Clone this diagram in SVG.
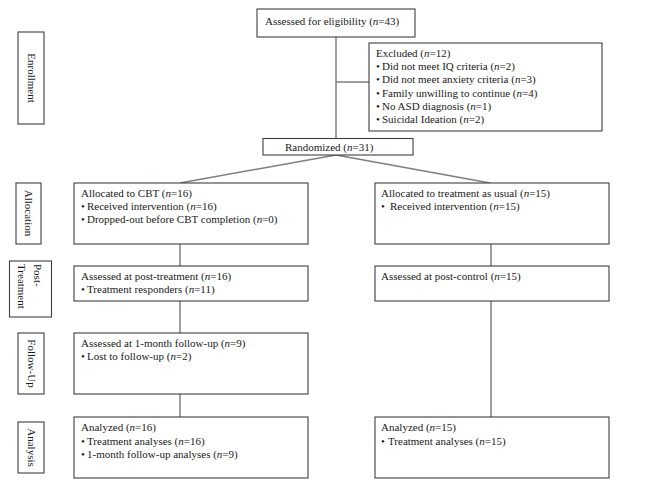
<svg xmlns="http://www.w3.org/2000/svg" width="664" height="489" viewBox="0 0 664 489">
<style>
  .box { fill: #ffffff; stroke: #3f3f3f; stroke-width: 1.1; }
  .conn { stroke: #7f7f7f; stroke-width: 1.5; fill: none; }
  text { font-family: "Liberation Serif", "Times New Roman", serif; font-size: 11px; fill: #1a1a1a; }
  .i { font-style: italic; }
</style>
<rect width="664" height="489" fill="#ffffff"/>
<g id="connectors">
  <line class="conn" x1="336" y1="37" x2="336" y2="138.5"/>
  <line class="conn" x1="336" y1="82" x2="369" y2="82"/>
  <line class="conn" x1="336" y1="155" x2="180" y2="183"/>
  <line class="conn" x1="336" y1="155" x2="490" y2="183"/>
  <line class="conn" x1="180" y1="244" x2="180" y2="266"/>
  <line class="conn" x1="180" y1="301" x2="180" y2="333"/>
  <line class="conn" x1="180" y1="394" x2="180" y2="417"/>
  <line class="conn" x1="491" y1="244" x2="491" y2="266"/>
  <line class="conn" x1="491" y1="301" x2="491" y2="417"/>
</g>
<g id="label-enrollment">
  <rect class="box" x="18" y="32" width="26" height="92"/>
  <text transform="translate(31,78) rotate(90)" x="0" y="3.5" text-anchor="middle">Enrollment</text>
</g>
<g id="label-allocation">
  <rect class="box" x="16" y="183" width="25" height="61"/>
  <text transform="translate(28.5,213) rotate(90)" x="0" y="3.5" text-anchor="middle">Allocation</text>
</g>
<g id="label-post-treatment">
  <rect class="box" x="9.5" y="261" width="42" height="56"/>
  <text transform="translate(33.5,264) rotate(90)" x="0" y="0">Post-</text>
  <text transform="translate(18,264) rotate(90)" x="0" y="0">Treatment</text>
</g>
<g id="label-follow-up">
  <rect class="box" x="18" y="333" width="26" height="61"/>
  <text transform="translate(31,363.5) rotate(90)" x="0" y="3.5" text-anchor="middle">Follow-Up</text>
</g>
<g id="label-analysis">
  <rect class="box" x="18" y="422" width="26" height="51"/>
  <text transform="translate(31,447.5) rotate(90)" x="0" y="3.5" text-anchor="middle">Analysis</text>
</g>
<g id="assessed">
  <rect class="box" x="257" y="9" width="158" height="28"/>
  <text x="265" y="24.5">Assessed for eligibility  (<tspan class="i">n</tspan>=43)</text>
</g>
<g id="excluded">
  <rect class="box" x="369" y="43" width="233" height="88"/>
  <text x="376" y="57">Excluded (<tspan class="i">n</tspan>=12)</text>
  <text x="376" y="70.2">•<tspan x="382">Did not meet IQ criteria (<tspan class="i">n</tspan>=2)</tspan></text>
  <text x="376" y="83.4">•<tspan x="382">Did not meet anxiety criteria (<tspan class="i">n</tspan>=3)</tspan></text>
  <text x="376" y="96.6">•<tspan x="382">Family unwilling to continue (<tspan class="i">n</tspan>=4)</tspan></text>
  <text x="376" y="109.8">•<tspan x="382">No ASD diagnosis (<tspan class="i">n</tspan>=1)</tspan></text>
  <text x="376" y="123">•<tspan x="382">Suicidal Ideation (<tspan class="i">n</tspan>=2)</tspan></text>
</g>
<g id="randomized">
  <rect class="box" x="263" y="138.5" width="150" height="16.5"/>
  <text x="285" y="151">Randomized (<tspan class="i">n</tspan>=31)</text>
</g>
<g id="alloc-cbt">
  <rect class="box" x="74" y="183" width="234" height="61"/>
  <text x="81" y="197">Allocated to CBT (<tspan class="i">n</tspan>=16)</text>
  <text x="81" y="210.2">•<tspan x="87">Received intervention (<tspan class="i">n</tspan>=16)</tspan></text>
  <text x="81" y="223.4">•<tspan x="87">Dropped-out before CBT completion (<tspan class="i">n</tspan>=0)</tspan></text>
</g>
<g id="alloc-tau">
  <rect class="box" x="375" y="183" width="234" height="61"/>
  <text x="381" y="197">Allocated to treatment as usual  (<tspan class="i">n</tspan>=15)</text>
  <text x="381" y="210.2">•<tspan x="390">Received intervention (<tspan class="i">n</tspan>=15)</tspan></text>
</g>
<g id="post-cbt">
  <rect class="box" x="74" y="266" width="234" height="35"/>
  <text x="81" y="280">Assessed at post-treatment (<tspan class="i">n</tspan>=16)</text>
  <text x="81" y="293.2">•<tspan x="87">Treatment responders (<tspan class="i">n</tspan>=11)</tspan></text>
</g>
<g id="post-tau">
  <rect class="box" x="375" y="266" width="234" height="35"/>
  <text x="381" y="280">Assessed at post-control  (<tspan class="i">n</tspan>=15)</text>
</g>
<g id="followup-cbt">
  <rect class="box" x="74" y="333" width="234" height="61"/>
  <text x="81" y="347">Assessed at 1-month follow-up (<tspan class="i">n</tspan>=9)</text>
  <text x="81" y="360.2">•<tspan x="87">Lost to follow-up (<tspan class="i">n</tspan>=2)</tspan></text>
</g>
<g id="analyzed-cbt">
  <rect class="box" x="74" y="417" width="234" height="61"/>
  <text x="81" y="431">Analyzed (<tspan class="i">n</tspan>=16)</text>
  <text x="81" y="444.5">•<tspan x="87">Treatment analyses  (<tspan class="i">n</tspan>=16)</tspan></text>
  <text x="81" y="458">•<tspan x="87">1-month follow-up analyses  (<tspan class="i">n</tspan>=9)</tspan></text>
</g>
<g id="analyzed-tau">
  <rect class="box" x="375" y="417" width="234" height="61"/>
  <text x="381" y="431">Analyzed (<tspan class="i">n</tspan>=15)</text>
  <text x="381" y="444.5">•<tspan x="388">Treatment analyses  (<tspan class="i">n</tspan>=15)</tspan></text>
</g>
</svg>
